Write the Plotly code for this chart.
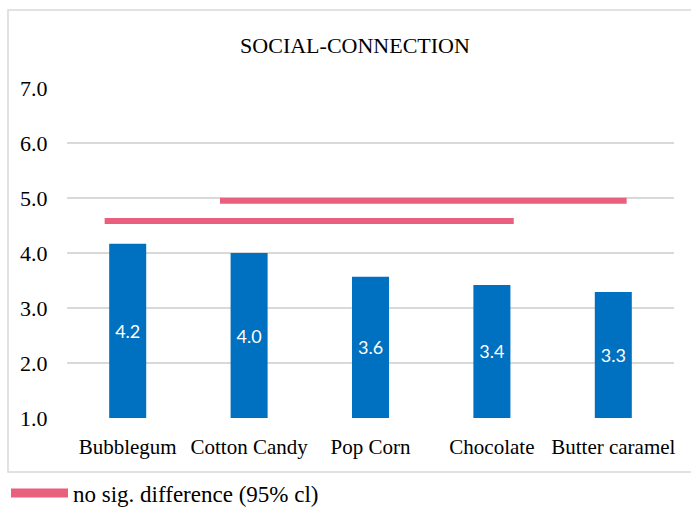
import plotly.graph_objects as go

categories = ["Bubblegum", "Cotton Candy", "Pop Corn", "Chocolate", "Butter caramel"]
means = [4.17, 4.0, 3.57, 3.42, 3.29]
labels = ["4.2", "4.0", "3.6", "3.4", "3.3"]
y_ticks = [1.0, 2.0, 3.0, 4.0, 5.0, 6.0, 7.0]

# groups with no significant difference: (start category pos, end category pos, level)
sig_start = [-0.19, 0.76]
sig_end = [3.18, 4.11]
sig_level = [4.58, 4.95]

BAR = "#0070C0"
PINK = "#E8607D"
SERIF = "Liberation Serif, Times New Roman, serif"

fig = go.Figure()
fig.add_trace(go.Bar(
    x=list(range(len(categories))), y=[m - 1 for m in means], base=1,
    width=0.305, marker=dict(color=BAR, line=dict(width=0)),
    text=labels, textposition="inside", insidetextanchor="middle",
    textfont=dict(color="white", size=18, family="Lato, sans-serif"),
    showlegend=False, hoverinfo="skip",
))
for i in range(len(sig_level)):
    fig.add_trace(go.Scatter(
        x=[sig_start[i], sig_end[i]], y=[sig_level[i], sig_level[i]],
        mode="lines", line=dict(color=PINK, width=6),
        showlegend=False, hoverinfo="skip",
    ))
# legend entry (thicker swatch like the reference)
fig.add_trace(go.Scatter(
    x=[None], y=[None], mode="lines", line=dict(color=PINK, width=9),
    name="no sig. difference (95% cl)", showlegend=True, hoverinfo="skip",
))

fig.update_layout(
    width=691, height=510,
    margin=dict(l=67, r=17, t=88, b=92, autoexpand=False),
    plot_bgcolor="white", paper_bgcolor="white",
    title=dict(text="SOCIAL-CONNECTION", x=355 / 691, xanchor="center",
               y=1 - 45 / 510, yanchor="middle", yref="container",
               font=dict(family=SERIF, size=22, color="black")),
    font=dict(family=SERIF, color="black"),
    xaxis=dict(range=[-0.5, 4.5], tickvals=list(range(len(categories))),
               ticktext=categories, showgrid=False, zeroline=False,
               showline=False, tickfont=dict(size=21, family=SERIF),
               ticks="outside", ticklen=10, tickcolor="rgba(0,0,0,0)",
               automargin=False),
    yaxis=dict(range=[1, 7], tickvals=y_ticks,
               ticktext=[f"{v:.1f}" for v in y_ticks],
               showgrid=True, gridcolor="#D9D9D9", gridwidth=1.5,
               zeroline=False, showline=False,
               tickfont=dict(size=22, family=SERIF),
               ticks="outside", ticklen=14, tickcolor="rgba(0,0,0,0)",
               automargin=False),
    legend=dict(orientation="h", xref="container", x=6 / 691, xanchor="left",
                yref="container", y=1 - 493 / 510, yanchor="middle",
                font=dict(size=23, family=SERIF), itemwidth=57,
                bgcolor="rgba(0,0,0,0)"),
    shapes=[dict(type="rect", xref="paper", yref="paper",
                 x0=-59 / 607, x1=1 + 30 / 607,
                 y0=-54 / 330, y1=1 + 78 / 330,
                 line=dict(color="#D9D9D9", width=1.5), layer="below")],
)

fig.write_html("out.html")
